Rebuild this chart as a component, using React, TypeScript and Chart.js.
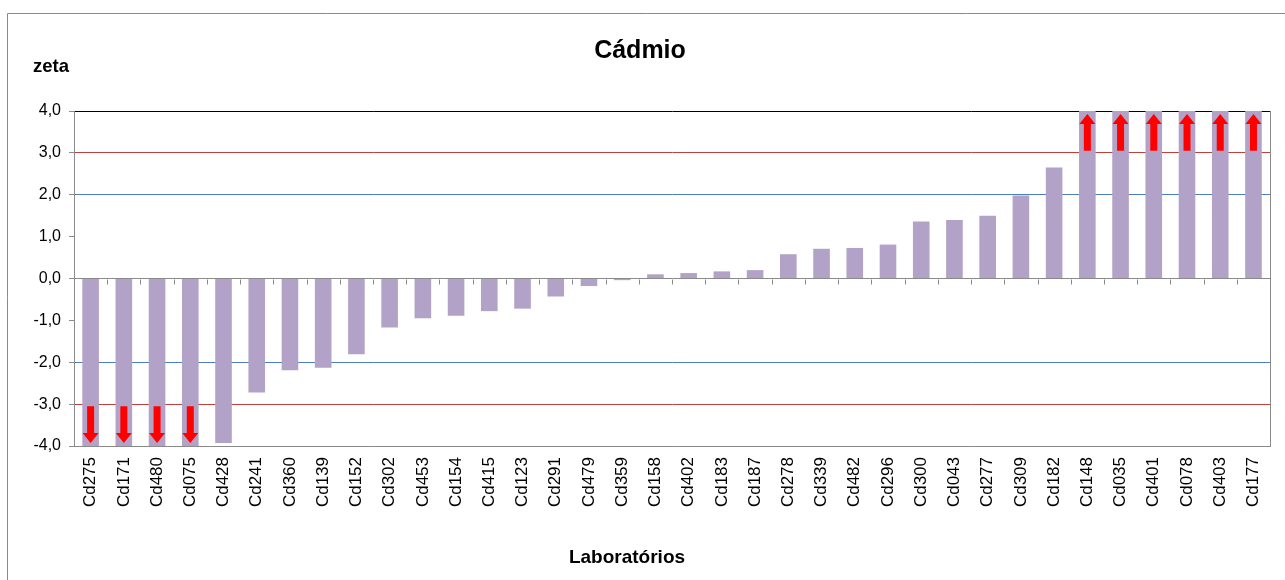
import React, { useEffect, useRef } from "react";
import { Chart, registerables } from "chart.js";

Chart.register(...registerables);

const labs = [
  "Cd275", "Cd171", "Cd480", "Cd075", "Cd428", "Cd241", "Cd360", "Cd139", "Cd152",
  "Cd302", "Cd453", "Cd154", "Cd415", "Cd123", "Cd291", "Cd479", "Cd359", "Cd158",
  "Cd402", "Cd183", "Cd187", "Cd278", "Cd339", "Cd482", "Cd296", "Cd300", "Cd043",
  "Cd277", "Cd309", "Cd182", "Cd148", "Cd035", "Cd401", "Cd078", "Cd403", "Cd177",
];

const zeta = [
  -5.0, -5.0, -5.0, -5.0, -3.93, -2.72, -2.19, -2.13, -1.81,
  -1.17, -0.95, -0.89, -0.78, -0.72, -0.43, -0.18, -0.04, 0.1,
  0.13, 0.17, 0.2, 0.58, 0.71, 0.73, 0.81, 1.36, 1.4,
  1.5, 1.98, 2.65, 5.0, 5.0, 5.0, 5.0, 5.0, 5.0,
];

const yTicks = [-4, -3, -2, -1, 0, 1, 2, 3, 4];
const axisMin = -4;
const axisMax = 4;
const arrowFrom = 3.05;
const arrowTo = 3.93;

const FONT = "'Liberation Sans', Arial, sans-serif";

const decorPlugin = {
  id: "decor",
  beforeDraw(chart: any) {
    const ctx = chart.ctx;
    ctx.save();
    ctx.fillStyle = "#ffffff";
    ctx.fillRect(0, 0, chart.width, chart.height);
    ctx.strokeStyle = "#8a8a8a";
    ctx.lineWidth = 1;
    ctx.beginPath();
    ctx.moveTo(7.5, chart.height + 5);
    ctx.lineTo(7.5, 13.5);
    ctx.lineTo(chart.width + 5, 13.5);
    ctx.stroke();
    ctx.restore();
  },
  afterDatasetsDraw(chart: any) {
    const ctx = chart.ctx;
    const x = chart.scales.x;
    const y = chart.scales.y;
    const area = chart.chartArea;
    ctx.save();
    // zero line ticks between categories
    const y0 = Math.round(y.getPixelForValue(0)) + 0.5;
    ctx.strokeStyle = "#8a8a8a";
    ctx.lineWidth = 1;
    ctx.beginPath();
    const n = labs.length;
    const step = (area.right - area.left) / n;
    for (let i = 1; i < n; i++) {
      const px = Math.round(area.left + step * i) + 0.5;
      ctx.moveTo(px, y0);
      ctx.lineTo(px, y0 + 5);
    }
    ctx.stroke();
    // right border
    ctx.beginPath();
    ctx.moveTo(Math.round(area.right) + 0.5, area.top);
    ctx.lineTo(Math.round(area.right) + 0.5, area.bottom);
    ctx.stroke();
    // arrows
    ctx.fillStyle = "#ff0000";
    zeta.forEach((v, i) => {
      if (v <= axisMax && v >= axisMin) return;
      const sign = v > 0 ? 1 : -1;
      const cx = x.getPixelForValue(i);
      const pStart = y.getPixelForValue(sign * arrowFrom);
      const pTip = y.getPixelForValue(sign * arrowTo);
      const headLen = 10;
      const shaftW = 7;
      const headW = 16;
      const dir = pTip < pStart ? -1 : 1;
      const headBase = pTip - dir * headLen;
      ctx.beginPath();
      ctx.moveTo(cx - shaftW / 2, pStart);
      ctx.lineTo(cx - shaftW / 2, headBase);
      ctx.lineTo(cx - headW / 2, headBase);
      ctx.lineTo(cx, pTip);
      ctx.lineTo(cx + headW / 2, headBase);
      ctx.lineTo(cx + shaftW / 2, headBase);
      ctx.lineTo(cx + shaftW / 2, pStart);
      ctx.closePath();
      ctx.fill();
    });
    ctx.restore();
  },
  afterDraw(chart: any) {
    const ctx = chart.ctx;
    ctx.save();
    ctx.fillStyle = "#000000";
    ctx.textAlign = "center";
    ctx.textBaseline = "middle";
    ctx.font = `bold 25px ${FONT}`;
    ctx.fillText("Cádmio", 640, 51);
    ctx.font = `bold 19px ${FONT}`;
    ctx.fillText("Laboratórios", 627, 558);
    ctx.font = `bold 18.5px ${FONT}`;
    ctx.textAlign = "left";
    ctx.textBaseline = "alphabetic";
    ctx.fillText("zeta", 33, 72);
    ctx.restore();
  },
};

export default function App() {
  const ref = useRef<HTMLCanvasElement | null>(null);
  useEffect(() => {
    if (!ref.current) return;
    const chart = new Chart(ref.current, {
      type: "bar",
      data: {
        labels: labs,
        datasets: [
          {
            label: "zeta",
            data: zeta,
            backgroundColor: "#b3a2c7",
            borderWidth: 0,
            barPercentage: 0.5,
            categoryPercentage: 1,
          },
        ],
      },
      options: {
        animation: false,
        responsive: false,
        maintainAspectRatio: false,
        layout: { padding: { top: 111, right: 10, bottom: 0, left: 0 } },
        plugins: {
          legend: { display: false },
          title: { display: false },
          tooltip: { enabled: false },
        },
        scales: {
          x: {
            grid: { display: false, drawTicks: false },
            border: { display: true, color: "#8a8a8a" },
            ticks: {
              autoSkip: false,
              maxRotation: 90,
              minRotation: 90,
              padding: 11,
              color: "#000000",
              font: { family: FONT, size: 17 },
            },
            afterFit(scale: any) {
              scale.height = 134;
            },
          },
          y: {
            min: axisMin,
            max: axisMax,
            afterBuildTicks(scale: any) {
              scale.ticks = yTicks.map((v) => ({ value: v }));
            },
            grid: {
              color: (c: any) => {
                const v = c.tick ? c.tick.value : 0;
                if (v === 4) return "#000000";
                if (v === 3 || v === -3) return "#c0403c";
                if (v === 2 || v === -2) return "#4a7fbb";
                if (v === 0 || v === -4) return "#8a8a8a";
                return "rgba(0,0,0,0)";
              },
              tickColor: "#8a8a8a",
              tickLength: 5,
              lineWidth: 1,
            },
            border: { display: true, color: "#8a8a8a" },
            ticks: {
              padding: 8,
              color: "#000000",
              font: { family: FONT, size: 16 },
              callback: (v: any) => Number(v).toFixed(1).replace(".", ","),
            },
            afterFit(scale: any) {
              scale.width = 74;
            },
          },
        },
      },
      plugins: [decorPlugin],
    });
    return () => chart.destroy();
  }, []);
  return (
    <div style={{ position: "fixed", left: 0, top: 0, width: 1285, height: 580, background: "#fff" }}>
      <canvas ref={ref} width={1285} height={580} />
    </div>
  );
}
